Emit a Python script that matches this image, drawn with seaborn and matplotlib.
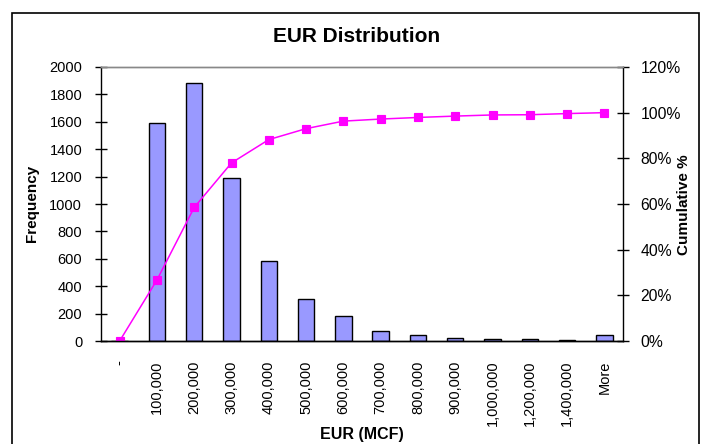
import numpy as np
import pandas as pd
import matplotlib
matplotlib.use("Agg")
import matplotlib.pyplot as plt
from matplotlib.patches import Rectangle
from matplotlib.ticker import FuncFormatter, FixedLocator
import seaborn as sns

# ---- data ----
categories = ["-", "100,000", "200,000", "300,000", "400,000", "500,000", "600,000",
              "700,000", "800,000", "900,000", "1,000,000", "1,200,000", "1,400,000", "More"]
frequency = [0, 1590, 1880, 1190, 585, 305, 180, 70, 45, 25, 18, 18, 6, 46]
cumulative_pct = [0.0, 0.267, 0.585, 0.780, 0.882, 0.930, 0.963, 0.972, 0.979, 0.985,
                  0.990, 0.991, 0.996, 1.000]

sns.set_theme(style="white")
plt.rcParams["font.family"] = ["Liberation Sans", "DejaVu Sans"]

df = pd.DataFrame({"EUR": categories, "Frequency": frequency, "Cum": cumulative_pct})

W, H = 704, 444
fig = plt.figure(figsize=(W / 100, H / 100), dpi=100)
fig.patch.set_facecolor("white")
L, R, T, B = 101, 623, 67, 341
ax = fig.add_axes([L / W, 1 - B / H, (R - L) / W, (B - T) / H])

sns.barplot(data=df, x="EUR", y="Frequency", ax=ax, color="#9999FF",
            saturation=1, width=0.44, edgecolor="black", linewidth=1)

ax2 = ax.twinx()
sns.pointplot(data=df, x="EUR", y="Cum", ax=ax2, color="#FF00FF",
              markers="s", markersize=5.5, linewidth=1.1, errorbar=None)

n = len(categories)
for a in (ax, ax2):
    a.set_xlim(-0.5, n - 0.5)
    a.set_xlabel("")
    a.set_ylabel("")
    a.grid(False)

ax.set_ylim(0, 2000)
ax.set_yticks(np.arange(0, 2001, 200))
ax.set_yticklabels([str(v) for v in range(0, 2001, 200)])
ax2.set_ylim(0, 1.2)
ax2.set_yticks(np.arange(0, 1.21, 0.2))
ax2.yaxis.set_major_formatter(FuncFormatter(lambda v, p: f"{v*100:.0f}%"))

# x ticks: labels at centers, tick marks at boundaries
ax.set_xticks(range(n))
ax.set_xticklabels(categories, rotation=90, va="top", ha="center")
ax.xaxis.set_minor_locator(FixedLocator(np.arange(-0.5, n, 1.0)))
ax.tick_params(axis="x", which="major", length=0, pad=14, labelsize=10.5, colors="black")
ax.tick_params(axis="x", which="minor", length=8, width=1, direction="inout", color="black")
ax.tick_params(axis="y", which="major", length=9, width=1, direction="inout",
               labelsize=10.5, pad=9, color="black", left=True)
ax2.tick_params(axis="y", which="major", length=9, width=1, direction="inout",
                labelsize=11.3, pad=8, color="black", right=True)
ax2.tick_params(axis="x", which="both", length=0, labelbottom=False)

for a in (ax, ax2):
    for s in ["left", "right", "bottom"]:
        a.spines[s].set_color("black")
        a.spines[s].set_linewidth(1)
    a.spines["top"].set_color("#888888")
    a.spines["top"].set_linewidth(1)
ax2.spines["left"].set_visible(False)
ax.spines["right"].set_visible(False)

for lab in ax.get_yticklabels() + ax2.get_yticklabels() + ax.get_xticklabels():
    lab.set_color("black")

# titles and axis labels
fig.text(357 / W, 1 - 37 / H, "EUR Distribution", ha="center", va="center",
         fontsize=15, fontweight="bold", color="black")
fig.text(362 / W, 1 - 434 / H, "EUR (MCF)", ha="center", va="center",
         fontsize=11.5, fontweight="bold", color="black")
fig.text(32 / W, 1 - 203 / H, "Frequency", ha="center", va="center", rotation=90,
         fontsize=11, fontweight="bold", color="black")
fig.text(684 / W, 1 - 205 / H, "Cumulative %", ha="center", va="center", rotation=90,
         fontsize=11, fontweight="bold", color="black")

# outer chart border (bottom edge lies outside the image)
fig.patches.append(Rectangle((12 / W, -0.05), (699 - 12) / W, (H - 13) / H + 0.05,
                             transform=fig.transFigure, fill=False,
                             edgecolor="black", linewidth=1.2))

fig.savefig("out.png", dpi=100)
